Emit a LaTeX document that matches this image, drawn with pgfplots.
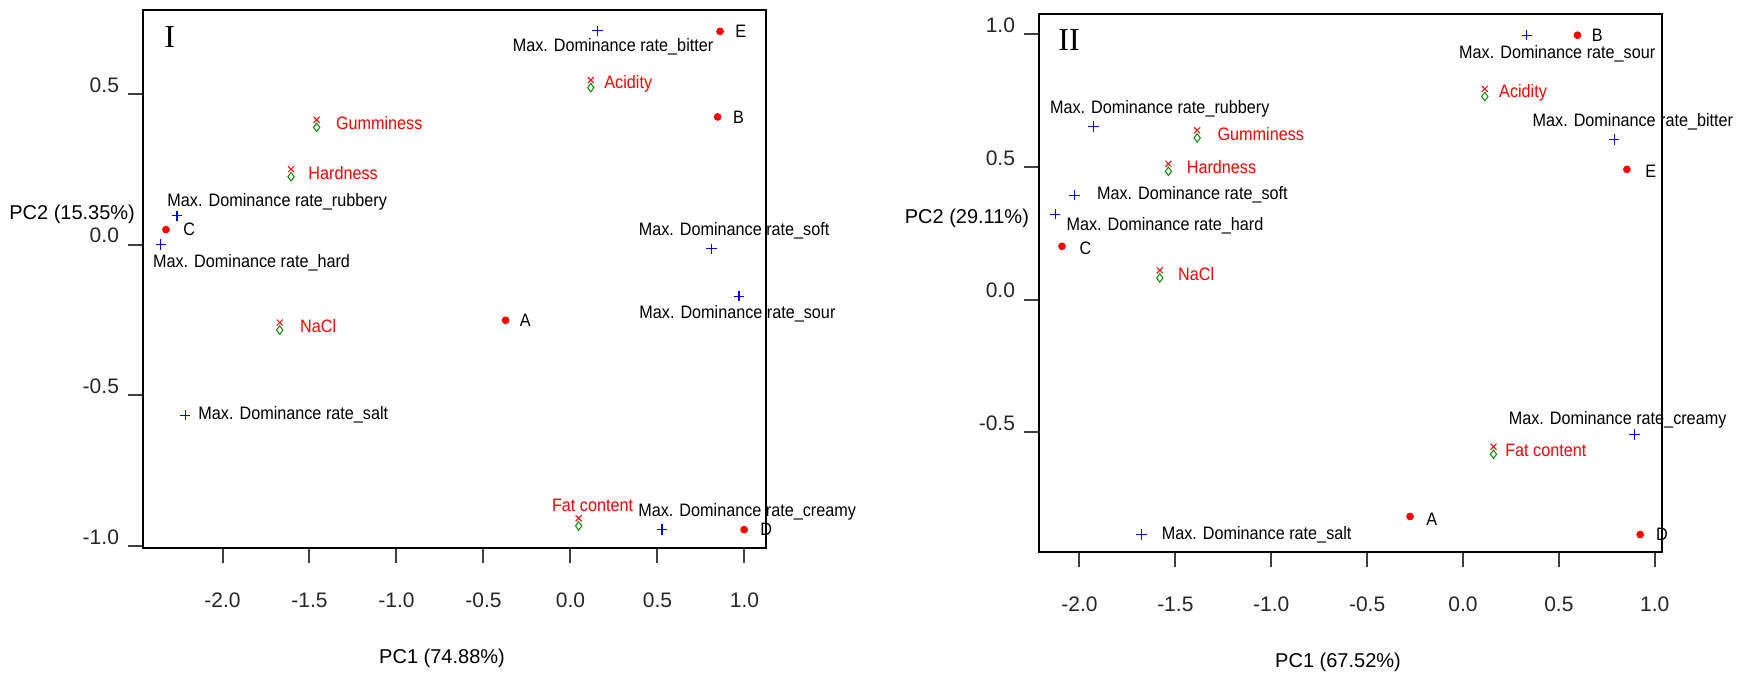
\documentclass[border=0pt]{standalone}
\usepackage{fontspec}
\setmainfont{Liberation Sans}
\newfontfamily\lab{Liberation Sans}[FakeStretch=0.9]
\newfontfamily\rom{Liberation Serif}
\usepackage{pgfplots}
\pgfplotsset{compat=1.18}

\definecolor{ptred}{RGB}{255,0,0}
\definecolor{ptblue}{RGB}{0,0,255}
\definecolor{ptgreen}{RGB}{0,140,0}

% point label: [colour]{x,y}{text}{xshift}{yshift}
\newcommand{\lbl}[5][black]{\node[anchor=west, inner sep=0pt, text=#1,
  font=\lab\fontsize{9}{10}\selectfont, xshift=#4pt, yshift=#5pt] at (axis cs:#2) {#3};}

\pgfplotsset{
  biplot/.style={
    scale only axis, width=311.5pt, height=269pt, clip=false,
    anchor=south west,
    axis line style={black, line width=0.8pt},
    tick align=outside, major tick length=7.5pt,
    xtick pos=bottom, ytick pos=left,
    tick style={line width=1pt, black!75},
    xtick={-2,-1.5,-1,-0.5,0,0.5,1},
    tick label style={font=\fontsize{10.5}{12}\selectfont, text=black!85},
    xticklabel style={yshift=-11.5pt},
    yticklabel style={yshift=4.5pt, xshift=-1pt},
    label style={font=\fontsize{9}{11}\selectfont},
    every axis x label/.style={at={(axis description cs:0.48,0)}, anchor=center, yshift=-55pt},
    every axis y label/.style={at={(axis description cs:0,0.62)}, anchor=east, xshift=-0.5pt},
    /pgf/number format/.cd, fixed, fixed zerofill, precision=1, assume math mode=true,
  },
  samples/.style={only marks, mark=*, mark size=1.7pt, color=ptred},
  dominance/.style={only marks, mark=+, mark size=2.6pt, color=ptblue, mark options={line width=0.6pt}},
  attrlow/.style={only marks, mark=diamond, mark size=2.1pt, color=ptgreen, mark options={yshift=-1.9pt, line width=0.5pt}},
  attrhigh/.style={only marks, mark=x, mark size=2.1pt, color=ptred, mark options={yshift=1.9pt, line width=0.5pt}},
}

\begin{document}
\begin{tikzpicture}
\useasboundingbox (0,0) rectangle (875pt,338pt);

% ---------------- Panel I ----------------
\begin{axis}[biplot, at={(71.5pt,64pt)},
  xmin=-2.457, xmax=1.124, ymin=-1.007, ymax=0.779,
  ytick={-1,-0.5,0,0.5},
  xlabel={PC1 (74.88\%)}, ylabel={PC2 (15.35\%)}]
\addplot[samples] coordinates {(-0.373,-0.251) (0.846,0.424) (-2.325,0.050) (0.998,-0.946) (0.860,0.708)};
\addplot[dominance] coordinates {(0.156,0.710) (-2.261,0.096) (-2.355,0.0) (0.810,-0.014) (0.969,-0.171) (-2.214,-0.566) (0.526,-0.946)};
\addplot[attrlow] coordinates {(0.117,0.534) (-1.459,0.402) (-1.606,0.238) (-1.671,-0.271) (0.047,-0.921)};
\addplot[attrhigh] coordinates {(0.117,0.534) (-1.459,0.402) (-1.606,0.238) (-1.671,-0.271) (0.047,-0.921)};
\lbl{-0.373,-0.251}{A}{7}{0}
\lbl{0.846,0.424}{B}{7.5}{0}
\lbl{-2.325,0.050}{C}{8.5}{0}
\lbl{0.998,-0.946}{D}{8}{0}
\lbl{0.860,0.708}{E}{7.5}{0}
\lbl{0.156,0.710}{Max. Dominance rate\_bitter}{-42.6}{-8}
\lbl{-2.261,0.096}{Max. Dominance rate\_rubbery}{-5}{6.7}
\lbl{-2.355,0.0}{Max. Dominance rate\_hard}{-4}{-9}
\lbl{0.810,-0.014}{Max. Dominance rate\_soft}{-36.5}{9}
\lbl{0.969,-0.171}{Max. Dominance rate\_sour}{-50}{-9}
\lbl{-2.214,-0.566}{Max. Dominance rate\_salt}{6.4}{0}
\lbl{0.526,-0.946}{Max. Dominance rate\_creamy}{-12}{8.7}
\lbl[ptred]{0.117,0.534}{Acidity}{6.6}{0}
\lbl[ptred]{-1.459,0.402}{Gumminess}{9.5}{0}
\lbl[ptred]{-1.606,0.238}{Hardness}{8.5}{0}
\lbl[ptred]{-1.671,-0.271}{NaCl}{10}{0}
\lbl[ptred]{0.047,-0.921}{Fat content}{-13.5}{8.5}
\node[anchor=west, inner sep=0pt, font=\rom\fontsize{16}{18}\selectfont, xshift=10.5pt, yshift=-13.5pt]
  at (rel axis cs:0,1) {I};
\end{axis}

% ---------------- Panel II ----------------
\begin{axis}[biplot, at={(519.5pt,62pt)},
  xmin=-2.211, xmax=1.038, ymin=-0.952, ymax=1.077,
  ytick={-0.5,0,0.5,1},
  xlabel={PC1 (67.52\%)}, ylabel={PC2 (29.11\%)},
  every axis y label/.append style={xshift=-1pt}]
\addplot[samples] coordinates {(-0.276,-0.818) (0.597,0.997) (-2.091,0.201) (0.924,-0.886) (0.855,0.491)};
\addplot[dominance] coordinates {(0.333,0.997) (0.789,0.604) (-1.926,0.652) (-2.025,0.394) (-2.127,0.322) (0.894,-0.509) (-1.677,-0.886)};
\addplot[attrlow] coordinates {(0.114,0.780) (-1.386,0.624) (-1.536,0.498) (-1.581,0.096) (0.159,-0.569)};
\addplot[attrhigh] coordinates {(0.114,0.780) (-1.386,0.624) (-1.536,0.498) (-1.581,0.096) (0.159,-0.569)};
\lbl{-0.276,-0.818}{A}{8}{-1.5}
\lbl{0.597,0.997}{B}{7}{0}
\lbl{-2.091,0.201}{C}{8.6}{-1}
\lbl{0.924,-0.886}{D}{7.8}{0}
\lbl{0.855,0.491}{E}{9}{-1}
\lbl{0.333,0.997}{Max. Dominance rate\_sour}{-34}{-9.5}
\lbl{0.789,0.604}{Max. Dominance rate\_bitter}{-41}{9}
\lbl{-1.926,0.652}{Max. Dominance rate\_rubbery}{-22}{8.7}
\lbl{-2.025,0.394}{Max. Dominance rate\_soft}{11}{0}
\lbl{-2.127,0.322}{Max. Dominance rate\_hard}{5.5}{-6}
\lbl{0.894,-0.509}{Max. Dominance rate\_creamy}{-63}{7.5}
\lbl{-1.677,-0.886}{Max. Dominance rate\_salt}{10}{0}
\lbl[ptred]{0.114,0.780}{Acidity}{7}{0}
\lbl[ptred]{-1.386,0.624}{Gumminess}{10}{0}
\lbl[ptred]{-1.536,0.498}{Hardness}{9}{0}
\lbl[ptred]{-1.581,0.096}{NaCl}{9}{0}
\lbl[ptred]{0.159,-0.569}{Fat content}{5.7}{0}
\node[anchor=west, inner sep=0pt, font=\rom\fontsize{16}{18}\selectfont, xshift=9.5pt, yshift=-13pt]
  at (rel axis cs:0,1) {II};
\end{axis}
\end{tikzpicture}
\end{document}
